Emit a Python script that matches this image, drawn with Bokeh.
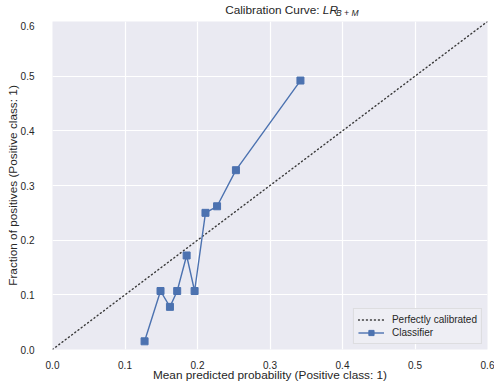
from bokeh.plotting import figure
from bokeh.layouts import column
from bokeh.models import FixedTicker, Range1d, NumeralTickFormatter
from bokeh.core.properties import value
from bokeh.embed import file_html
from bokeh.resources import INLINE

# data
mean_pred = [0.127, 0.149, 0.162, 0.172, 0.185, 0.196, 0.211, 0.227, 0.253, 0.342]
frac_pos = [0.015, 0.107, 0.078, 0.107, 0.172, 0.107, 0.250, 0.262, 0.328, 0.492]
diag = [0.0, 0.6]
ticks = [0.0, 0.1, 0.2, 0.3, 0.4, 0.5, 0.6]
title_main = "Calibration Curve: "
title_sym = "LR"
title_sub = "B + M"

FONT = "Liberation Sans"
TXT = "#262626"
BLUE = "#4C72B0"

# ---- title strip (pixel coordinates) ----
W, TH = 494, 21
tf = figure(width=W, height=TH, output_backend="svg", toolbar_location=None,
            x_range=Range1d(0, W), y_range=Range1d(TH, 0),
            x_axis_type=None, y_axis_type=None, min_border=0)
tf.title.visible = False
tf.outline_line_color = None
tf.grid.visible = False
tf.background_fill_color = "white"
tf.border_fill_color = "white"
tf.text([307], [9], text=[title_main], text_align="right", text_baseline="middle",
        text_font=value(FONT), text_font_size="11.8px", text_color=TXT)
tf.text([307], [9], text=[title_sym], text_align="left", text_baseline="middle",
        text_font=value(FONT), text_font_size="11.8px", text_font_style="italic",
        text_color=TXT)
tf.text([322], [12], text=[title_sub], text_align="left", text_baseline="middle",
        text_font=value(FONT), text_font_size="8.5px", text_font_style="italic",
        text_color=TXT)

# ---- main chart ----
p = figure(width=W, height=388 - TH, output_backend="svg", toolbar_location=None,
           x_range=Range1d(0, 0.6), y_range=Range1d(0, 0.6),
           min_border_left=52, min_border_right=7, min_border_top=0, min_border_bottom=39)
p.title.visible = False
p.background_fill_color = "#EAEAF2"
p.border_fill_color = "white"
p.outline_line_color = None

for ax in (p.xaxis[0], p.yaxis[0]):
    ax.ticker = FixedTicker(ticks=ticks)
    ax.formatter = NumeralTickFormatter(format="0.0")
    ax.axis_line_color = None
    ax.major_tick_line_color = None
    ax.minor_tick_line_color = None
    ax.major_label_text_font = FONT
    ax.major_label_text_font_size = "10px"
    ax.major_label_text_color = TXT
    ax.axis_label_text_font = FONT
    ax.axis_label_text_font_size = "11.8px"
    ax.axis_label_text_font_style = "normal"
    ax.axis_label_text_color = TXT

p.xaxis.axis_label = "Mean predicted probability (Positive class: 1)"
p.yaxis.axis_label = "Fraction of positives (Positive class: 1)"
p.xaxis.major_label_standoff = 5
p.xaxis.axis_label_standoff = -4
p.yaxis.major_label_standoff = 12
p.yaxis.axis_label_standoff = -2

for g in (p.xgrid[0], p.ygrid[0]):
    g.ticker = FixedTicker(ticks=ticks)
    g.grid_line_color = "white"
    g.grid_line_width = 1.2

p.line(diag, diag, line_color="#383838", line_width=1.4, line_dash="1 3",
       line_cap="round", legend_label="Perfectly calibrated")
p.line(mean_pred, frac_pos, line_color=BLUE, line_width=1.4, legend_label="Classifier")
p.scatter(mean_pred, frac_pos, marker="square", size=7, fill_color=BLUE,
          line_color=BLUE, legend_label="Classifier")

lg = p.legend[0]
lg.location = "bottom_right"
lg.margin = 5
lg.padding = 4
lg.spacing = 0
lg.label_height = 13
lg.glyph_height = 13
lg.glyph_width = 26
lg.label_standoff = 8
lg.label_text_font = FONT
lg.label_text_font_size = "10px"
lg.label_text_color = TXT
lg.background_fill_color = "#EEEEF4"
lg.background_fill_alpha = 0.9
lg.border_line_color = "#CCCCCC"
lg.border_line_width = 1

layout = column(tf, p, spacing=0)
open("out.html", "w").write(file_html(layout, INLINE))
